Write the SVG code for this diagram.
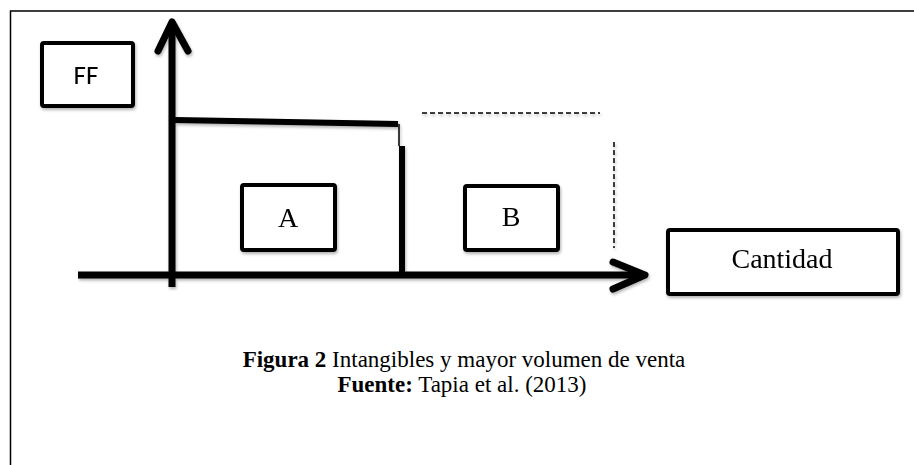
<svg xmlns="http://www.w3.org/2000/svg" width="914" height="465" viewBox="0 0 914 465">
<defs>
<filter id="sh" x="-20%" y="-20%" width="140%" height="140%">
<feDropShadow dx="1" dy="2" stdDeviation="1.5" flood-color="#000" flood-opacity="0.3"/>
</filter>
</defs>
<style>
.box{fill:#fff;stroke:#000;stroke-width:4;}
.thick{fill:none;stroke:#000;stroke-width:7;}
.dash{fill:none;stroke:#000;stroke-width:1.5;stroke-dasharray:5,3;}
.serif{font-family:"Liberation Serif","Times New Roman",serif;fill:#000;}
.sans{font-family:"Carlito","Liberation Sans",Arial,sans-serif;fill:#000;}
</style>
<rect width="914" height="465" fill="#fff"/>
<path d="M10.5,465 V11 H914" fill="none" stroke="#000" stroke-width="1.5"/>
<g id="connectors" filter="url(#sh)">
<path class="thick" d="M78,275 H643"/>
<path class="thick" d="M613,262 L645,275 L613,289" stroke-linecap="round" stroke-linejoin="round"/>
<path class="thick" d="M172,287 V24"/>
<path class="thick" d="M158,51 L172,22 L188,51" stroke-linecap="round" stroke-linejoin="round"/>
<path d="M175,120 L398,124" fill="none" stroke="#000" stroke-width="6"/>
<path d="M399,124 V146" fill="none" stroke="#000" stroke-width="1.5"/>
<path d="M402,146 V275" fill="none" stroke="#000" stroke-width="6"/>
<path class="dash" d="M422,113 H600"/>
<path class="dash" d="M614,142 V248"/>
</g>
<g id="ff" filter="url(#sh)">
<rect class="box" x="42" y="43" width="91" height="63" rx="2"/>
<text class="sans" x="86" y="84" font-size="27" text-anchor="middle">FF</text>
</g>
<g id="a" filter="url(#sh)">
<rect class="box" x="242" y="185" width="93" height="65" rx="2"/>
<text class="serif" x="288" y="227" font-size="28" text-anchor="middle">A</text>
</g>
<g id="b" filter="url(#sh)">
<rect class="box" x="465" y="186" width="93" height="64" rx="2"/>
<text class="serif" x="511" y="226" font-size="28" text-anchor="middle">B</text>
</g>
<g id="cantidad" filter="url(#sh)">
<rect class="box" x="668" y="230" width="230" height="64" rx="2"/>
<text class="serif" x="782" y="268" font-size="28" text-anchor="middle">Cantidad</text>
</g>
<g id="caption">
<text class="serif" x="464" y="367" font-size="23" text-anchor="middle"><tspan font-weight="bold">Figura 2</tspan> Intangibles y mayor volumen de venta</text>
<text class="serif" x="462" y="392" font-size="23" text-anchor="middle"><tspan font-weight="bold">Fuente:</tspan> Tapia et al. (2013)</text>
</g>
</svg>
